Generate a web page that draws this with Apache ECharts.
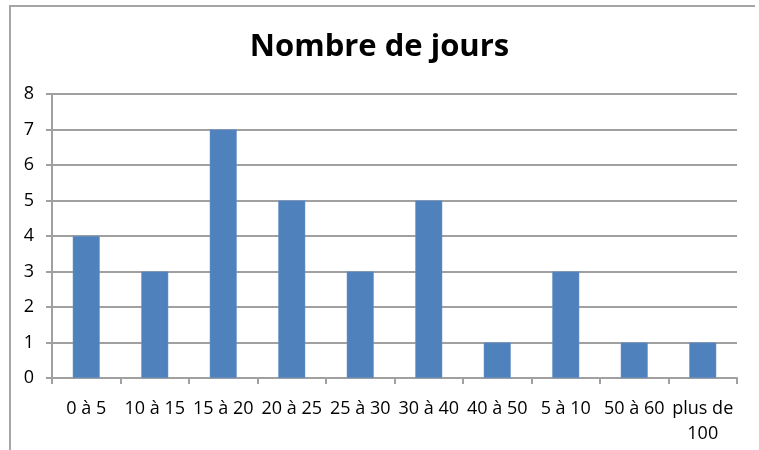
<!DOCTYPE html>
<html>
<head>
<meta charset="utf-8">
<script src="https://cdn.jsdelivr.net/npm/echarts@6/dist/echarts.min.js"></script>
<style>html,body{margin:0;padding:0;background:#fff}#c{width:759px;height:450px}</style>
</head>
<body>
<div id="c"></div>
<script>
const titleText = "Nombre de jours";
const categories = ["0 à 5", "10 à 15", "15 à 20", "20 à 25", "25 à 30", "30 à 40", "40 à 50", "5 à 10", "50 à 60", "plus de\n100"];
const values = [4, 3, 7, 5, 3, 5, 1, 3, 1, 1];
const yMin = 0, yMax = 8, yStep = 1;

const chart = echarts.init(document.getElementById('c'), null, {renderer: 'canvas'});
const font = "'Open Sans', sans-serif";
chart.setOption({
  animation: false,
  backgroundColor: '#fff',
  title: {
    text: titleText,
    left: 'center',
    top: 27,
    textStyle: {fontFamily: font, fontWeight: 'bold', fontSize: 31, color: '#000'}
  },
  graphic: [{
    type: 'polyline',
    shape: {points: [[10, 450], [10, 6], [755, 6]]},
    style: {stroke: '#A5A5A5', lineWidth: 2, fill: null},
    silent: true
  }],
  grid: {left: 52, right: 22, top: 94, bottom: 72, containLabel: false},
  xAxis: {
    type: 'category',
    data: categories,
    axisLine: {lineStyle: {color: '#A0A0A0', width: 2}},
    axisTick: {show: true, alignWithLabel: false, length: 6, lineStyle: {color: '#A0A0A0', width: 2}},
    axisLabel: {interval: 0, color: '#000', fontFamily: font, fontSize: 18, margin: 18, lineHeight: 25}
  },
  yAxis: {
    type: 'value',
    min: yMin, max: yMax, interval: yStep,
    axisLine: {show: true, lineStyle: {color: '#A0A0A0', width: 2}},
    axisTick: {show: true, length: 6, lineStyle: {color: '#A0A0A0', width: 2}},
    splitLine: {lineStyle: {color: '#A0A0A0', width: 2}},
    axisLabel: {color: '#000', fontFamily: font, fontSize: 18, margin: 18}
  },
  series: [{
    type: 'bar',
    data: values,
    barWidth: 27,
    itemStyle: {color: '#4F81BD', borderColor: '#6D95C9', borderWidth: 0.5}
  }]
});
</script>
</body>
</html>
